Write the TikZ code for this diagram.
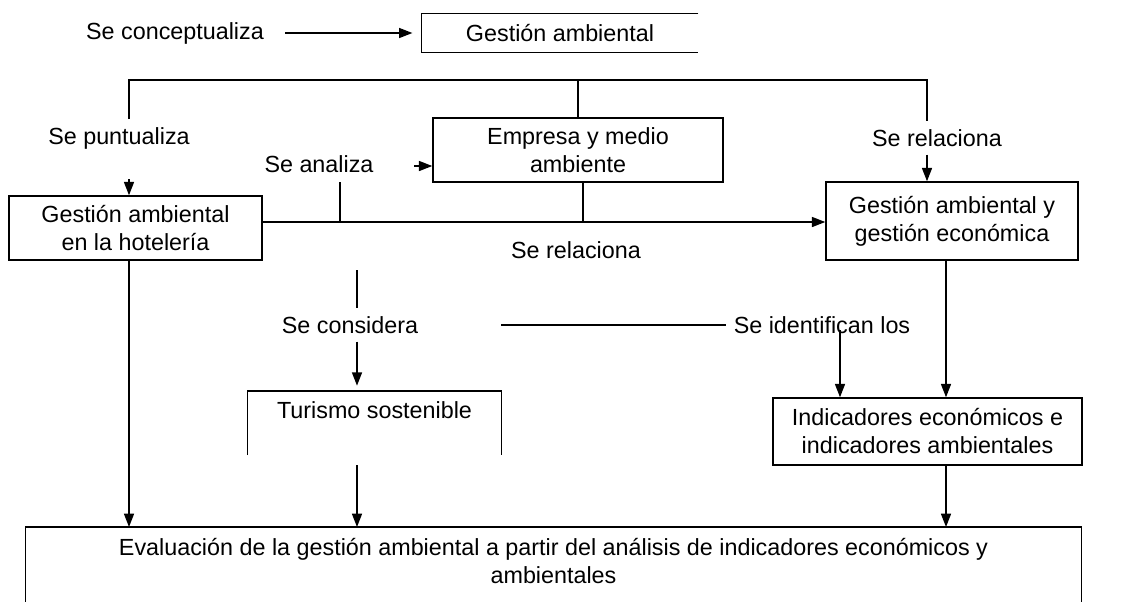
\documentclass[tikz,border=0pt]{standalone}
\usepackage{fontspec}
\setmainfont{Liberation Sans}
\usetikzlibrary{arrows.meta}

\begin{document}
\begin{tikzpicture}[x=0.75pt,y=0.75pt,yscale=-1,xscale=1,
  every node/.style={font=\fontsize{17.5}{21}\selectfont},
  box/.style={draw,line width=1.1pt,align=center,inner sep=3pt},
  lbl/.style={inner sep=5.8pt},
  arr/.style={line width=1.1pt,-{Triangle[length=10pt,width=7.5pt]}},
  ln/.style={line width=1.1pt}]
\useasboundingbox (0,0) rectangle (1121,601);

% Text Node
\node (conceptualiza) [lbl] at (175,33) {Se conceptualiza};
\node (puntualiza) [lbl] at (119,138) {Se puntualiza};
\node (analiza) [lbl] at (319,164) {Se analiza};
\node (relacionaA) [lbl] at (576,250) {Se relaciona};
\node (relacionaB) [lbl] at (937,138) {Se relaciona};
\node (considera) [lbl] at (350,325) {Se considera};
\node (identifican) [lbl] at (822,325) {Se identifican los};

%Shape: Rectangle
\node (gestion) [minimum width=207pt,minimum height=28.5pt] at (560,33) {Gestión ambiental};
\draw [ln] (gestion.north east) -- (gestion.north west) -- (gestion.south west) -- (gestion.south east);
\node (hotel) [box,minimum width=189.75pt,minimum height=48pt] at (135.5,228) {Gestión ambiental\\en la hotelería};
\node (empresa) [box,minimum width=217.5pt,minimum height=48pt] at (578,150) {Empresa y medio\\ambiente};
\node (economica) [box,minimum width=189pt,minimum height=58.5pt] at (952,221) {Gestión ambiental y\\gestión económica};
\node (turismo) [anchor=north,minimum width=189.75pt,inner ysep=8pt] at (374.5,391) {Turismo sostenible};
\draw [ln] (turismo.north west) ++(0,64) -- (turismo.north west) -- (turismo.north east) -- ++(0,64);
\node (indicadores) [box,minimum width=231.75pt,minimum height=50.25pt] at (927.5,431.5) {Indicadores económicos e\\indicadores ambientales};
\node (evaluacion) [anchor=north,align=center,minimum width=791.25pt,inner ysep=8pt] at (553.5,527) {Evaluación de la gestión ambiental a partir del análisis de indicadores económicos y\\ambientales};
\draw [ln] (evaluacion.north west) ++(0,90) -- (evaluacion.north west) -- (evaluacion.north east) -- ++(0,90);

% points on the lines
\coordinate (bL) at (129,80);
\coordinate (bR) at (927,80);
\coordinate (mid) at (583,222);
\coordinate (tick) at (340,182);
\coordinate (cx) at (357,270);
\coordinate (rx) at (946,260);
\coordinate (idx) at (840,330);

%Straight Lines
\draw [arr] ([xshift=10pt]conceptualiza.east) -- ([xshift=-7pt]gestion.west);
\draw [ln] (bL |- puntualiza.north) -- (bL) -- (bR) -- (bR |- relacionaB.north);
\draw [ln] (empresa.north) -- (empresa.north |- bL);
\draw [arr] (bL |- hotel.north) ++(0,-16) -- (bL |- hotel.north);
\draw [arr] (empresa.west) ++(-18,16) -- ++(18,0);
\draw [ln] (tick) -- (tick |- mid);
\draw [arr] (hotel.east |- mid) -- (economica.west |- mid);
\draw [ln] (empresa.south -| mid) -- (mid);
\draw [arr] (bR |- relacionaB.south) -- (bR |- economica.north);
\draw [arr] (economica.south -| rx) -- (indicadores.north -| rx);
\draw [arr] (indicadores.south -| rx) -- (evaluacion.north -| rx);
\draw [arr] (hotel.south -| bL) -- (evaluacion.north -| bL);
\draw [ln] (cx) -- (cx |- considera.north);
\draw [arr,shorten >=4pt] (considera.south -| cx) -- (turismo.north -| cx);
\draw [arr] (turismo.north -| cx) ++(0,74) -- (evaluacion.north -| cx);
\draw [ln] (turismo.north east |- identifican.west) -- (identifican.west);
\draw [arr] (idx) -- (idx |- indicadores.north);

\end{tikzpicture}
\end{document}
